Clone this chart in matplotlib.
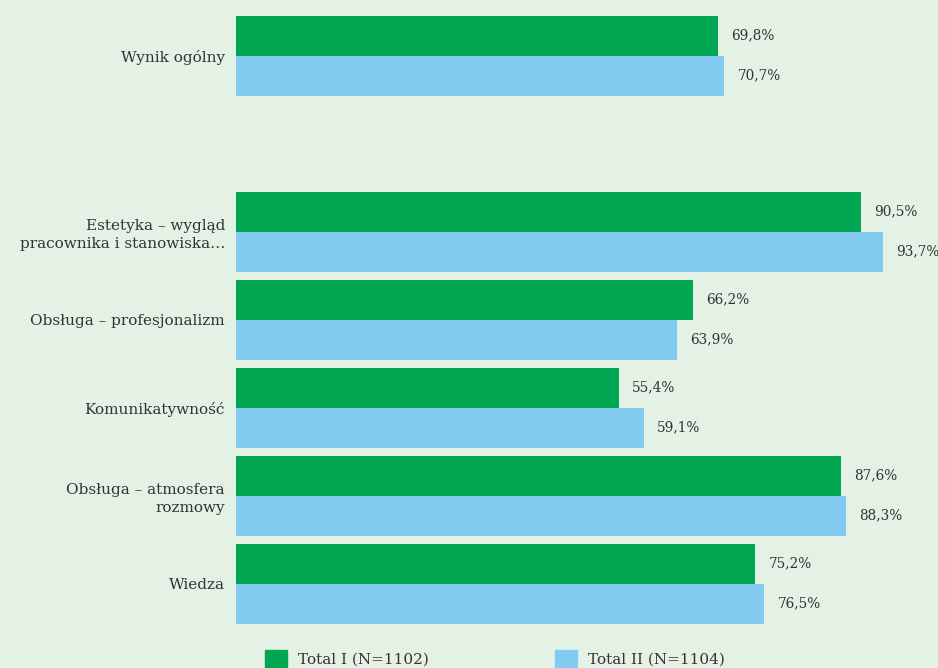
import numpy as np
import matplotlib.pyplot as plt
from matplotlib.patches import Rectangle

# dane
kategorie = ["Wynik ogólny", "Estetyka – wygląd\npracownika i stanowiska…",
             "Obsługa – profesjonalizm", "Komunikatywność",
             "Obsługa – atmosfera\nrozmowy", "Wiedza"]
pozycje = [0, 2, 3, 4, 5, 6]
total1 = [69.8, 90.5, 66.2, 55.4, 87.6, 75.2]
total2 = [70.7, 93.7, 63.9, 59.1, 88.3, 76.5]
legenda = ["Total I (N=1102)", "Total II (N=1104)"]

TLO = "#e4f2e5"
ZIELONY = "#00a651"
NIEBIESKI = "#82caf0"
TEKST = "#333333"

plt.rcParams['font.family'] = ['DejaVu Serif']

fig = plt.figure(figsize=(9.38, 6.68), dpi=100, facecolor=TLO)
ax = fig.add_axes([236/938, 28/668, 690.6/938, 640/668])
ax.set_facecolor(TLO)

h = 40/88
y = np.array(pozycje, dtype=float)
ax.barh(y - h/2, total1, height=h, color=ZIELONY)
ax.barh(y + h/2, total2, height=h, color=NIEBIESKI)

def fmt(v):
    return ("%.1f" % v).replace(".", ",") + "%"

for yy, v in zip(y, total1):
    ax.annotate(fmt(v), (v, yy - h/2), xytext=(9.5, 0), textcoords="offset points",
                va="center", ha="left", fontsize=9.8, color=TEKST)
for yy, v in zip(y, total2):
    ax.annotate(fmt(v), (v, yy + h/2), xytext=(9.5, 0), textcoords="offset points",
                va="center", ha="left", fontsize=9.8, color=TEKST)

ax.set_xlim(0, 100)
ax.set_ylim(6.64, -0.632)
ax.set_yticks(y)
ax.set_yticklabels(kategorie, fontsize=11, color=TEKST, linespacing=1.35)
ax.tick_params(axis="y", length=0, pad=8)
ax.set_xticks([])
for s in ax.spines.values():
    s.set_visible(False)

# legenda na dole
for x0, kol, txt in [(265, ZIELONY, legenda[0]), (555, NIEBIESKI, legenda[1])]:
    fig.patches.append(Rectangle((x0/938, -4/668), 22/938, 22/668, color=kol,
                                 transform=fig.transFigure, figure=fig))
    fig.text((x0 + 33)/938, 8/668, txt, fontsize=11, color=TEKST, va="center", ha="left")

fig.savefig("out.png", dpi=100, facecolor=TLO)
